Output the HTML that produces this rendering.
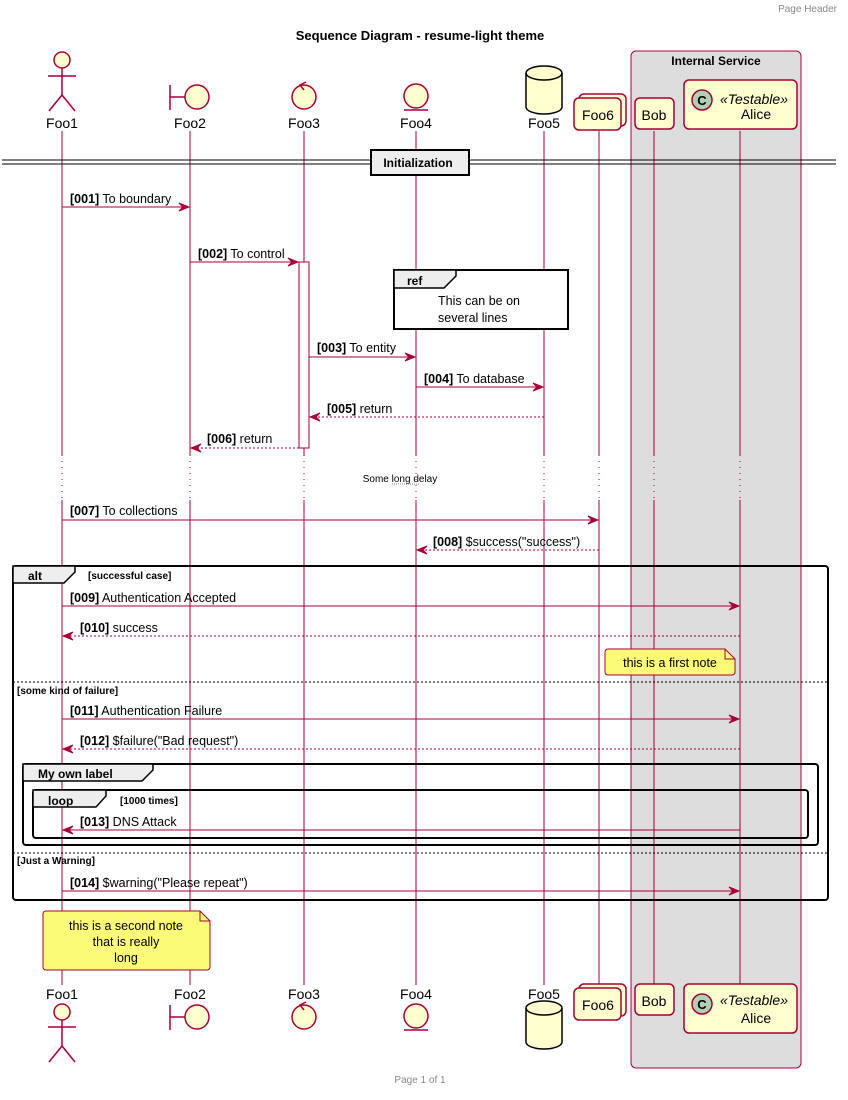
<!DOCTYPE html>
<html><head><meta charset="utf-8"><style>
html,body{margin:0;padding:0;background:#fff;}
svg text{font-family:"Liberation Sans",sans-serif;}
</style></head><body>
<svg width="848" height="1095" viewBox="0 0 848 1095" xmlns="http://www.w3.org/2000/svg">
<defs>
<g id="ah"><polygon points="-10,-4 0,0 -10,4 -6,0" fill="#A80036" stroke="#A80036"/></g>
</defs>
<text x="837" y="12" font-size="10" fill="#888" text-anchor="end">Page Header</text>
<text x="420" y="40" font-size="13" font-weight="bold" text-anchor="middle">Sequence Diagram - resume-light theme</text>
<rect x="631" y="51" width="170" height="1017" rx="5" fill="#DDDDDD" stroke="#A80036"/>
<text x="716" y="65" font-size="12" font-weight="bold" text-anchor="middle">Internal Service</text>
<g stroke="#A80036" stroke-width="1">
<line x1="62" y1="131" x2="62" y2="455"/><line x1="62" y1="500" x2="62" y2="985"/>
<line x1="190" y1="131" x2="190" y2="455"/><line x1="190" y1="500" x2="190" y2="985"/>
<line x1="304" y1="131" x2="304" y2="455"/><line x1="304" y1="500" x2="304" y2="985"/>
<line x1="416" y1="131" x2="416" y2="455"/><line x1="416" y1="500" x2="416" y2="985"/>
<line x1="544" y1="131" x2="544" y2="455"/><line x1="544" y1="500" x2="544" y2="985"/>
<line x1="599" y1="131" x2="599" y2="455"/><line x1="599" y1="500" x2="599" y2="985"/>
<line x1="654" y1="131" x2="654" y2="455"/><line x1="654" y1="500" x2="654" y2="985"/>
<line x1="740" y1="131" x2="740" y2="455"/><line x1="740" y1="500" x2="740" y2="985"/>
</g>
<g stroke="#A80036" stroke-width="1" stroke-dasharray="1,5">
<line x1="62" y1="455" x2="62" y2="500"/><line x1="190" y1="455" x2="190" y2="500"/>
<line x1="304" y1="455" x2="304" y2="500"/><line x1="416" y1="455" x2="416" y2="500"/>
<line x1="544" y1="455" x2="544" y2="500"/><line x1="599" y1="455" x2="599" y2="500"/>
<line x1="654" y1="455" x2="654" y2="500"/><line x1="740" y1="455" x2="740" y2="500"/>
</g>
<g stroke="#A80036" stroke-width="1.5" fill="#FEFECE">
<circle cx="62" cy="60" r="8"/>
<line x1="62" y1="68" x2="62" y2="95"/><line x1="48" y1="76" x2="76" y2="76"/>
<polyline points="49,111 62,95 75,111" fill="none"/>
<line x1="170" y1="85" x2="170" y2="110"/><line x1="170" y1="97" x2="185" y2="97"/>
<circle cx="197" cy="97" r="12"/>
<circle cx="304" cy="97" r="12"/>
<polyline points="306,82 300,85 304,90" fill="none"/>
<circle cx="416" cy="96" r="12"/><line x1="404" y1="110" x2="428" y2="110"/>
<path d="M526,73 a18,7 0 0 1 36,0 v34 a18,7 0 0 1 -36,0 z" stroke="#000"/>
<path d="M526,73 a18,7 0 0 0 36,0" fill="none" stroke="#000"/>
<rect x="579" y="94" width="47" height="32" rx="5"/>
<rect x="574" y="98" width="47" height="32" rx="5"/>
<rect x="635" y="98" width="39" height="31" rx="5"/>
<rect x="684" y="80" width="113" height="49" rx="5"/>
<circle cx="702" cy="100" r="10" fill="#ADD1B2"/>
</g>
<g font-size="14" text-anchor="middle">
<text x="62" y="128">Foo1</text><text x="190" y="128">Foo2</text><text x="304" y="128">Foo3</text>
<text x="416" y="128">Foo4</text><text x="544" y="128">Foo5</text>
<text x="598" y="120">Foo6</text><text x="654" y="120">Bob</text>
<text x="702" y="105" font-weight="bold" font-size="13">C</text>
<text x="720" y="104" font-style="italic" text-anchor="start">«Testable»</text>
<text x="756" y="119">Alice</text>
</g>
<g stroke="#A80036" stroke-width="1.5" fill="#FEFECE">
<circle cx="62" cy="1012" r="8"/>
<line x1="62" y1="1020" x2="62" y2="1046"/><line x1="48" y1="1027" x2="76" y2="1027"/>
<polyline points="49,1062 62,1046 75,1062" fill="none"/>
<line x1="170" y1="1005" x2="170" y2="1030"/><line x1="170" y1="1017" x2="185" y2="1017"/>
<circle cx="197" cy="1017" r="12"/>
<circle cx="304" cy="1017" r="12"/>
<polyline points="306,1002 300,1005 304,1010" fill="none"/>
<circle cx="416" cy="1016" r="12"/><line x1="404" y1="1030" x2="428" y2="1030"/>
<path d="M526,1008 a18,7 0 0 1 36,0 v34 a18,7 0 0 1 -36,0 z" stroke="#000"/>
<path d="M526,1008 a18,7 0 0 0 36,0" fill="none" stroke="#000"/>
<rect x="579" y="984" width="47" height="32" rx="5"/>
<rect x="574" y="988" width="47" height="32" rx="5"/>
<rect x="635" y="984" width="39" height="31" rx="5"/>
<rect x="684" y="984" width="113" height="49" rx="5"/>
<circle cx="702" cy="1004" r="10" fill="#ADD1B2"/>
</g>
<g font-size="14" text-anchor="middle">
<text x="62" y="999">Foo1</text><text x="190" y="999">Foo2</text><text x="304" y="999">Foo3</text>
<text x="416" y="999">Foo4</text><text x="544" y="999">Foo5</text>
<text x="598" y="1010">Foo6</text><text x="654" y="1006">Bob</text>
<text x="702" y="1009" font-weight="bold" font-size="13">C</text>
<text x="720" y="1005" font-style="italic" text-anchor="start">«Testable»</text>
<text x="756" y="1023">Alice</text>
</g>
<line x1="2" y1="160" x2="836" y2="160" stroke="#000"/>
<line x1="2" y1="164" x2="836" y2="164" stroke="#000"/>
<rect x="371" y="150" width="98" height="25" fill="#EEEEEE" stroke="#000" stroke-width="2"/>
<text x="418" y="167" font-size="12" font-weight="bold" text-anchor="middle">Initialization</text>
<rect x="299" y="262" width="10" height="186" fill="#fff" stroke="#A80036"/>
<rect x="394" y="270" width="174" height="59" fill="#fff" stroke="#000" stroke-width="2"/>
<path d="M394,270 H456 V276 L444,288 H394 Z" fill="#EEEEEE" stroke="#000" stroke-width="1.5"/>
<text x="407" y="285" font-size="12" font-weight="bold">ref</text>
<text x="438" y="305" font-size="12.5">This can be on</text>
<text x="438" y="322" font-size="12.5">several lines</text>
<rect x="13" y="566" width="815" height="334" rx="3" fill="none" stroke="#000" stroke-width="2"/>
<path d="M13,566 H75 V572 L64,583 H13 Z" fill="#EEEEEE" stroke="#000" stroke-width="1.5"/>
<text x="28" y="580" font-size="12" font-weight="bold">alt</text>
<text x="88" y="579" font-size="10" font-weight="bold">[successful case]</text>
<line x1="13" y1="682" x2="828" y2="682" stroke="#000" stroke-dasharray="2,2"/>
<text x="17" y="694" font-size="10" font-weight="bold">[some kind of failure]</text>
<rect x="23" y="764" width="795" height="81" rx="3" fill="none" stroke="#000" stroke-width="2"/>
<path d="M23,764 H153 V770 L142,781 H23 Z" fill="#EEEEEE" stroke="#000" stroke-width="1.5"/>
<text x="38" y="778" font-size="12" font-weight="bold">My own label</text>
<rect x="33" y="790" width="775" height="48" rx="3" fill="none" stroke="#000" stroke-width="2"/>
<path d="M33,790 H106 V796 L96,807 H33 Z" fill="#EEEEEE" stroke="#000" stroke-width="1.5"/>
<text x="48" y="805" font-size="12" font-weight="bold">loop</text>
<text x="120" y="804" font-size="10" font-weight="bold">[1000 times]</text>
<line x1="13" y1="853" x2="828" y2="853" stroke="#000" stroke-dasharray="2,2"/>
<text x="17" y="864" font-size="10" font-weight="bold">[Just a Warning]</text>
<g stroke="#A80036" stroke-width="1">
<line x1="62" y1="207" x2="189" y2="207"/>
<line x1="190" y1="262" x2="297" y2="262"/>
<line x1="309" y1="357" x2="415" y2="357"/>
<line x1="416" y1="387" x2="543" y2="387"/>
<line x1="544" y1="417" x2="311" y2="417" stroke-dasharray="2,2"/>
<line x1="299" y1="448" x2="192" y2="448" stroke-dasharray="2,2"/>
<line x1="62" y1="520" x2="598" y2="520"/>
<line x1="599" y1="550" x2="418" y2="550" stroke-dasharray="2,2"/>
<line x1="62" y1="606" x2="739" y2="606"/>
<line x1="740" y1="636" x2="64" y2="636" stroke-dasharray="2,2"/>
<line x1="62" y1="719" x2="739" y2="719"/>
<line x1="740" y1="749" x2="64" y2="749" stroke-dasharray="2,2"/>
<line x1="740" y1="830" x2="64" y2="830"/>
<line x1="62" y1="891" x2="739" y2="891"/>
</g>
<use href="#ah" transform="translate(189,207)"/>
<use href="#ah" transform="translate(298,262)"/>
<use href="#ah" transform="translate(415,357)"/>
<use href="#ah" transform="translate(543,387)"/>
<use href="#ah" transform="translate(310,417) scale(-1,1)"/>
<use href="#ah" transform="translate(191,448) scale(-1,1)"/>
<use href="#ah" transform="translate(598,520)"/>
<use href="#ah" transform="translate(417,550) scale(-1,1)"/>
<use href="#ah" transform="translate(739,606)"/>
<use href="#ah" transform="translate(63,636) scale(-1,1)"/>
<use href="#ah" transform="translate(739,719)"/>
<use href="#ah" transform="translate(63,749) scale(-1,1)"/>
<use href="#ah" transform="translate(63,830) scale(-1,1)"/>
<use href="#ah" transform="translate(739,891)"/>
<g font-size="12.5">
<text x="70" y="203"><tspan font-weight="bold">[001]</tspan> To boundary</text>
<text x="198" y="258"><tspan font-weight="bold">[002]</tspan> To control</text>
<text x="317" y="352"><tspan font-weight="bold">[003]</tspan> To entity</text>
<text x="424" y="383"><tspan font-weight="bold">[004]</tspan> To database</text>
<text x="327" y="413"><tspan font-weight="bold">[005]</tspan> return</text>
<text x="207" y="443"><tspan font-weight="bold">[006]</tspan> return</text>
<text x="70" y="515"><tspan font-weight="bold">[007]</tspan> To collections</text>
<text x="433" y="546"><tspan font-weight="bold">[008]</tspan> $success("success")</text>
<text x="70" y="602"><tspan font-weight="bold">[009]</tspan> Authentication Accepted</text>
<text x="80" y="632"><tspan font-weight="bold">[010]</tspan> success</text>
<text x="70" y="715"><tspan font-weight="bold">[011]</tspan> Authentication Failure</text>
<text x="80" y="745"><tspan font-weight="bold">[012]</tspan> $failure("Bad request")</text>
<text x="80" y="826"><tspan font-weight="bold">[013]</tspan> DNS Attack</text>
<text x="70" y="887"><tspan font-weight="bold">[014]</tspan> $warning("Please repeat")</text>
</g>
<text x="400" y="482" font-size="10" text-anchor="middle">Some long delay</text>
<line x1="392" y1="484" x2="420" y2="484" stroke="#888" stroke-dasharray="1,1"/>
<path d="M605,652 a3,3 0 0 1 3,-3 H725 L735,659 V672 a3,3 0 0 1 -3,3 H608 a3,3 0 0 1 -3,-3 Z" fill="#FBFB77" stroke="#A80036"/>
<path d="M725,649 V659 H735" fill="none" stroke="#A80036"/>
<text x="670" y="667" font-size="12.5" text-anchor="middle">this is a first note</text>
<path d="M43,914 a3,3 0 0 1 3,-3 H200 L210,921 V967 a3,3 0 0 1 -3,3 H46 a3,3 0 0 1 -3,-3 Z" fill="#FBFB77" stroke="#A80036"/>
<path d="M200,911 V921 H210" fill="none" stroke="#A80036"/>
<g font-size="12.5" text-anchor="middle">
<text x="126" y="930">this is a second note</text>
<text x="126" y="946">that is really</text>
<text x="126" y="962">long</text>
</g>
<text x="420" y="1083" font-size="10" fill="#888" text-anchor="middle">Page 1 of 1</text>
</svg>
</body></html>
